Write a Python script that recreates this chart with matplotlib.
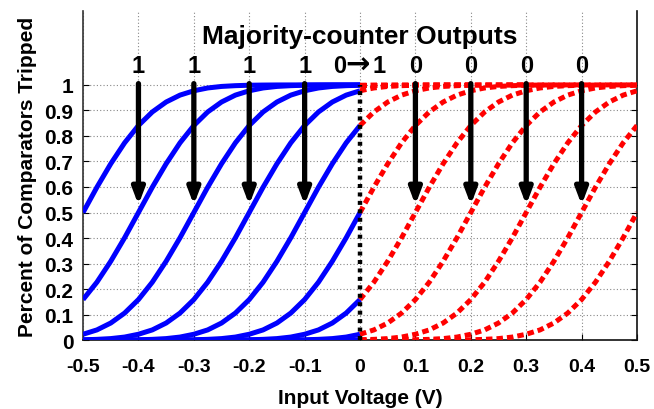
import numpy as np
import matplotlib
matplotlib.use("Agg")
import matplotlib.pyplot as plt

# ---- data ----
# curve centres (V) where each comparator family reaches 50 %
centers = [-0.5, -0.4, -0.3, -0.2, -0.1, 0.0, 0.1, 0.2, 0.3, 0.4, 0.5]
# sampled sigmoid profile: offsets from the centre (V) and fraction tripped
offsets = [-0.5, -0.475, -0.45, -0.425, -0.4, -0.375, -0.35, -0.325, -0.3, -0.275,
           -0.25, -0.225, -0.2, -0.175, -0.15, -0.125, -0.1, -0.075, -0.05, -0.025,
           0.0, 0.025, 0.05, 0.075, 0.1, 0.125, 0.15, 0.175, 0.2, 0.225,
           0.25, 0.275, 0.3, 0.325, 0.35, 0.375, 0.4, 0.425, 0.45, 0.475, 0.5]
profile = [0.0, 0.0, 0.0, 0.0, 0.0, 0.0001, 0.0002, 0.0006, 0.0013, 0.003,
           0.006, 0.012, 0.023, 0.040, 0.067, 0.106, 0.159, 0.227, 0.309, 0.401,
           0.5, 0.599, 0.691, 0.773, 0.841, 0.894, 0.933, 0.960, 0.977, 0.988,
           0.994, 0.997, 0.9987, 0.9994, 0.9998, 0.9999, 1.0, 1.0, 1.0, 1.0, 1.0]

arrow_x = [-0.4, -0.3, -0.2, -0.1, 0.1, 0.2, 0.3, 0.4]
label_x = [-0.4, -0.3, -0.2, -0.1, 0.0, 0.1, 0.2, 0.3, 0.4]
label_txt = ["1", "1", "1", "1", "0\u21921", "0", "0", "0", "0"]
xticks = [-0.5, -0.4, -0.3, -0.2, -0.1, 0, 0.1, 0.2, 0.3, 0.4, 0.5]
xtick_labels = ["-0.5", "-0.4", "-0.3", "-0.2", "-0.1", "0", "0.1", "0.2", "0.3", "0.4", "0.5"]
yticks = [0, 0.1, 0.2, 0.3, 0.4, 0.5, 0.6, 0.7, 0.8, 0.9, 1]
ytick_labels = ["0", "0.1", "0.2", "0.3", "0.4", "0.5", "0.6", "0.7", "0.8", "0.9", "1"]

plt.rcParams['font.family'] = ['Liberation Sans', 'DejaVu Sans']
plt.rcParams['font.weight'] = 'bold'

fig = plt.figure(figsize=(6.54, 4.10), dpi=100)
ax = fig.add_axes([0.127, 0.168, 0.847, 0.803])

off = np.array(offsets)
prof = np.array(profile)
eps = 1e-9
for c in centers:
    x = c + off
    mb = (x >= -0.5 - eps) & (x <= 0 + eps)
    ax.plot(x[mb], prof[mb], color='#0000ff', lw=3.6, solid_capstyle='butt', zorder=3)
for c in centers:
    x = c + off
    mr = (x >= 0 - eps) & (x <= 0.5 + eps)
    ax.plot(x[mr], prof[mr], color='#ff0000', lw=3.6, dashes=(1.3, 0.8), zorder=3)

ax.plot([0, 0], [0, 1], color='black', lw=3.2, dashes=(0.9, 1.0), zorder=4)

for xa in arrow_x:
    ax.annotate('', xy=(xa, 0.53), xytext=(xa, 1.005),
                arrowprops=dict(arrowstyle='-|>,head_width=0.36,head_length=0.95',
                                color='black', lw=3.8, shrinkA=0, shrinkB=0),
                zorder=5)

for xl, t in zip(label_x, label_txt):
    if "\u2192" in t:
        left, right = t.split("\u2192")
        ax.annotate(left, (xl, 1.075), xytext=(-15, 0), textcoords='offset points',
                    ha='center', va='center', fontsize=17, fontweight='bold')
        ax.annotate("\u2192", (xl, 1.075), xytext=(-2, 1), textcoords='offset points',
                    ha='center', va='center', fontsize=21, fontweight='bold',
                    family='DejaVu Sans')
        ax.annotate(right, (xl, 1.075), xytext=(14, 0), textcoords='offset points',
                    ha='center', va='center', fontsize=17, fontweight='bold')
    else:
        ax.text(xl, 1.075, t, ha='center', va='center', fontsize=17, fontweight='bold')

ax.text(0.0, 1.19, "Majority-counter Outputs", ha='center', va='center',
        fontsize=19, fontweight='bold')

ax.set_xlim(-0.5, 0.5)
ax.set_ylim(0, 1.29)
ax.set_xticks(xticks)
ax.set_xticklabels(xtick_labels, fontsize=14, fontweight='bold')
ax.set_yticks(yticks)
ax.set_yticklabels(ytick_labels, fontsize=15, fontweight='bold')
ax.tick_params(direction='in', length=4, right=True, top=False)
ax.tick_params(axis='x', pad=13)
ax.tick_params(axis='y', pad=7)
ax.grid(True, linestyle=(0, (1, 2)), color='#888888', lw=0.8)
ax.set_axisbelow(True)
ax.spines['top'].set_visible(False)
ax.spines['left'].set_color('#333333')
ax.spines['right'].set_color('#111111')
ax.spines['bottom'].set_color('#111111')
for s in ax.spines.values():
    s.set_linewidth(1.2)

ax.set_xlabel("Input Voltage (V)", fontsize=15, fontweight='bold', labelpad=9)
ax.set_ylabel("Percent of Comparators Tripped", fontsize=15, fontweight='bold', labelpad=5)

fig.savefig("out.png", dpi=100)
